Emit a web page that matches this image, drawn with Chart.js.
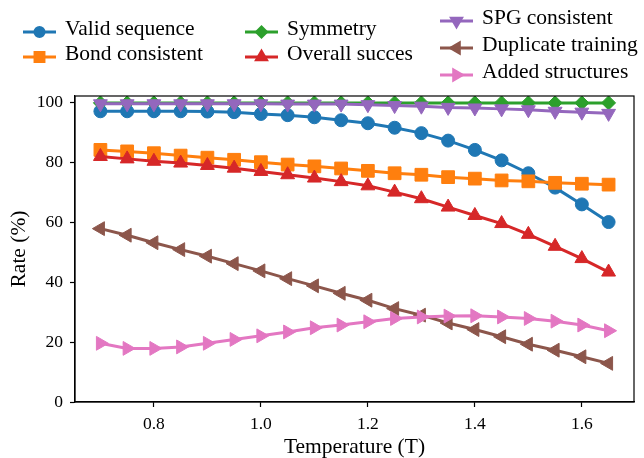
<!DOCTYPE html>
<html lang="en">
<head>
    <meta charset="UTF-8">
    <title>Rate vs Temperature</title>
    <script src="https://cdn.jsdelivr.net/npm/chart.js"></script>
    <style>
        body {
            margin: 0;
            background: #fff;
        }
        #wrap {
            width: 644px;
            height: 458px;
        }
    </style>
</head>
<body>
    <div id="wrap"><canvas id="chart" width="644" height="458"></canvas></div>

    <script>
        // data
        const temperatures = [0.70, 0.75, 0.80, 0.85, 0.90, 0.95, 1.00, 1.05, 1.10, 1.15,
                              1.20, 1.25, 1.30, 1.35, 1.40, 1.45, 1.50, 1.55, 1.60, 1.65];
        const validSequence = [97.1, 97.1, 97.1, 97.1, 97.0, 96.8, 96.2, 95.8, 95.1, 94.1,
                               93.1, 91.6, 89.8, 87.3, 84.2, 80.7, 76.4, 71.6, 66.0, 60.1];
        const bondConsistent = [84.2, 83.7, 83.1, 82.3, 81.6, 80.9, 80.1, 79.3, 78.7, 78.0,
                                77.2, 76.4, 75.9, 75.1, 74.6, 74.0, 73.7, 73.2, 72.9, 72.6];
        const symmetry = [99.9, 99.9, 99.9, 99.9, 99.9, 99.9, 99.9, 99.9, 99.9, 99.9,
                          99.9, 99.9, 99.9, 99.9, 99.9, 99.9, 99.9, 99.9, 99.9, 99.9];
        const overallSuccess = [82.0, 81.2, 80.4, 79.8, 79.0, 78.1, 77.0, 75.9, 74.8, 73.6,
                                72.2, 70.1, 67.9, 65.1, 62.3, 59.6, 56.0, 52.0, 47.9, 43.4];
        const spgConsistent = [99.6, 99.6, 99.6, 99.6, 99.6, 99.6, 99.6, 99.5, 99.5, 99.5,
                               99.3, 99.0, 98.8, 98.4, 98.2, 97.9, 97.6, 97.1, 96.8, 96.4];
        const duplicateTraining = [57.9, 55.7, 53.2, 50.9, 48.7, 46.2, 43.8, 41.2, 38.8, 36.3,
                                   34.0, 31.2, 29.0, 26.4, 24.2, 21.8, 19.3, 17.3, 15.1, 12.9];
        const addedStructures = [19.6, 17.9, 17.9, 18.4, 19.6, 20.9, 22.1, 23.4, 24.8, 25.7,
                                 26.8, 27.9, 28.4, 28.7, 28.8, 28.4, 27.9, 27.0, 25.7, 23.8];
        const xTicks = [0.8, 1.0, 1.2, 1.4, 1.6];
        const yTicks = [0, 20, 40, 60, 80, 100];

        const FONT = "'Liberation Serif', 'DejaVu Serif', serif";

        const series = [
            { label: 'Valid sequence', data: validSequence, color: '#1f77b4', style: 'circle', rot: 0, r: 6.5 },
            { label: 'Bond consistent', data: bondConsistent, color: '#ff7f0e', style: 'rect', rot: 0, r: 9 },
            { label: 'Symmetry', data: symmetry, color: '#2ca02c', style: 'rectRot', rot: 0, r: 7 },
            { label: 'Overall succes', data: overallSuccess, color: '#d62728', style: 'triangle', rot: 0, r: 8 },
            { label: 'SPG consistent', data: spgConsistent, color: '#9467bd', style: 'triangle', rot: 180, r: 8 },
            { label: 'Duplicate training', data: duplicateTraining, color: '#8c564b', style: 'triangle', rot: 270, r: 8 },
            { label: 'Added structures', data: addedStructures, color: '#e377c2', style: 'triangle', rot: 90, r: 8 }
        ];

        // legend slots (column x, row y) like the original figure
        const legendSlots = [
            [23, 32], [23, 57],
            [245, 32], [245, 57],
            [440, 21], [440, 48], [440, 75]
        ];

        const datasets = series.map((s, i) => ({
            label: s.label,
            data: temperatures.map((t, j) => ({ x: t, y: s.data[j] })),
            borderColor: s.color,
            backgroundColor: s.color,
            borderWidth: 3,
            pointStyle: s.style,
            pointRotation: s.rot,
            pointRadius: s.r,
            pointBorderWidth: 1,
            pointBorderColor: s.color,
            pointBackgroundColor: s.color,
            tension: 0,
            order: series.length - i
        }));

        const legendAndFrame = {
            id: 'legendAndFrame',
            afterDraw(chart) {
                const ctx = chart.ctx;
                const a = chart.chartArea;
                ctx.save();
                // full box around the axes
                ctx.strokeStyle = '#000';
                ctx.lineWidth = 1.2;
                ctx.strokeRect(a.left, a.top, a.right - a.left, a.bottom - a.top);

                // legend
                ctx.font = '21.5px ' + FONT;
                ctx.textBaseline = 'middle';
                ctx.textAlign = 'left';
                series.forEach((s, i) => {
                    const [x0, y] = legendSlots[i];
                    ctx.strokeStyle = s.color;
                    ctx.lineWidth = 3;
                    ctx.beginPath();
                    ctx.moveTo(x0, y);
                    ctx.lineTo(x0 + 33, y);
                    ctx.stroke();
                    ctx.fillStyle = s.color;
                    Chart.helpers.drawPoint(ctx, {
                        pointStyle: s.style,
                        rotation: s.rot,
                        radius: s.r * 0.7,
                        borderWidth: 1
                    }, x0 + 16.5, y);
                    ctx.fillStyle = '#000';
                    ctx.fillText(s.label, x0 + 42, y - 3);
                });
                ctx.restore();
            }
        };

        new Chart(document.getElementById('chart'), {
            type: 'line',
            data: { datasets: datasets },
            options: {
                responsive: false,
                animation: false,
                layout: { padding: { top: 96, right: 5, left: 0, bottom: 0 } },
                plugins: {
                    legend: { display: false },
                    tooltip: { enabled: false }
                },
                scales: {
                    x: {
                        type: 'linear',
                        min: 0.6525,
                        max: 1.6975,
                        afterBuildTicks: axis => { axis.ticks = xTicks.map(v => ({ value: v })); },
                        afterFit: scale => {
                            scale.height = 56;
                            scale.paddingLeft = 0;
                            scale.paddingRight = 0;
                        },
                        grid: { drawOnChartArea: false, drawTicks: true, tickLength: 5, tickColor: '#000', tickWidth: 1.2 },
                        border: { display: true, color: '#000', width: 1.2 },
                        ticks: {
                            color: '#000',
                            padding: 7,
                            font: { family: FONT, size: 17.5 },
                            callback: v => v.toFixed(1)
                        },
                        title: {
                            display: true,
                            text: 'Temperature (T)',
                            color: '#000',
                            font: { family: FONT, size: 21.5, lineHeight: 1 },
                            padding: { top: 0, bottom: 0 }
                        }
                    },
                    y: {
                        type: 'linear',
                        min: 0,
                        max: 102.2,
                        afterBuildTicks: axis => { axis.ticks = yTicks.map(v => ({ value: v })); },
                        afterFit: scale => { scale.width = 75; },
                        grid: { drawOnChartArea: false, drawTicks: true, tickLength: 5, tickColor: '#000', tickWidth: 1.2 },
                        border: { display: true, color: '#000', width: 1.2 },
                        ticks: {
                            color: '#000',
                            padding: 7,
                            font: { family: FONT, size: 17.5 }
                        },
                        title: {
                            display: true,
                            text: 'Rate (%)',
                            color: '#000',
                            font: { family: FONT, size: 21.5, lineHeight: 1 },
                            padding: { top: 9, bottom: 0 }
                        }
                    }
                }
            },
            plugins: [legendAndFrame]
        });
    </script>
</body>
</html>
